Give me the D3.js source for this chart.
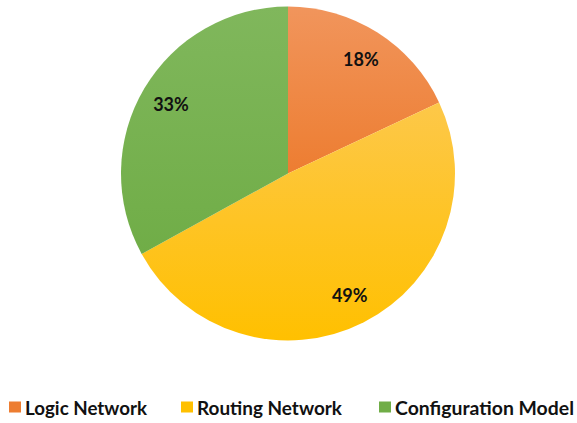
<!DOCTYPE html>
<html>
<head>
<meta charset="utf-8">
<script src="https://cdn.jsdelivr.net/npm/d3@7"></script>
<style>
  html, body { margin: 0; padding: 0; background: #fff; }
  svg { display: block; font-family: Lato, "Open Sans", sans-serif; }
</style>
</head>
<body>
<svg id="chart" width="577" height="423"></svg>
<script>
// Share of components
const categories = ["Logic Network", "Routing Network", "Configuration Model"];
const values = [18, 49, 33];
const baseColors = ["#ED7D31", "#FFC000", "#70AD47"];
const topColors = ["#F1955C", "#FDC849", "#80B75C"];

const cx = 288, cy = 173.5, R = 167, labelR = 136;

const svg = d3.select("#chart");
const defs = svg.append("defs");

categories.forEach((c, i) => {
  const g = defs.append("linearGradient")
    .attr("id", "grad" + i)
    .attr("x1", 0).attr("y1", 0).attr("x2", 0).attr("y2", 1);
  g.append("stop").attr("offset", "0%").attr("stop-color", topColors[i]);
  g.append("stop").attr("offset", "100%").attr("stop-color", baseColors[i]);
});

const pie = d3.pie().sort(null).value(d => d.value);
const data = pie(categories.map((c, i) => ({ name: c, value: values[i], i })));

const arc = d3.arc().innerRadius(0).outerRadius(R);
const labelArc = d3.arc().innerRadius(labelR).outerRadius(labelR);

const g = svg.append("g").attr("transform", `translate(${cx},${cy})`);

g.selectAll("path.slice")
  .data(data)
  .join("path")
  .attr("class", "slice")
  .attr("d", arc)
  .attr("fill", d => `url(#grad${d.data.i})`);

g.selectAll("text.pct")
  .data(data)
  .join("text")
  .attr("class", "pct")
  .attr("transform", d => `translate(${labelArc.centroid(d)})`)
  .attr("text-anchor", "middle")
  .attr("dominant-baseline", "central")
  .attr("font-size", 18)
  .attr("font-weight", "bold")
  .attr("fill", "#111")
  .text(d => d.data.value + "%");

// Legend
const legendX = [9, 181, 379];
const legendTextW = [122, 145, 179];
const legend = svg.append("g").attr("transform", "translate(0,407)");
const items = legend.selectAll("g.item")
  .data(categories)
  .join("g")
  .attr("class", "item")
  .attr("transform", (d, i) => `translate(${legendX[i]},0)`);

items.append("rect")
  .attr("x", 0).attr("y", -5.5)
  .attr("width", 12).attr("height", 11)
  .attr("fill", (d, i) => baseColors[i]);

items.append("text")
  .attr("x", 16)
  .attr("y", 0.5)
  .attr("dominant-baseline", "central")
  .attr("font-size", 18)
  .attr("font-weight", "bold")
  .attr("fill", "#111")
  .attr("textLength", (d, i) => legendTextW[i])
  .attr("lengthAdjust", "spacingAndGlyphs")
  .text(d => d);
</script>
</body>
</html>
